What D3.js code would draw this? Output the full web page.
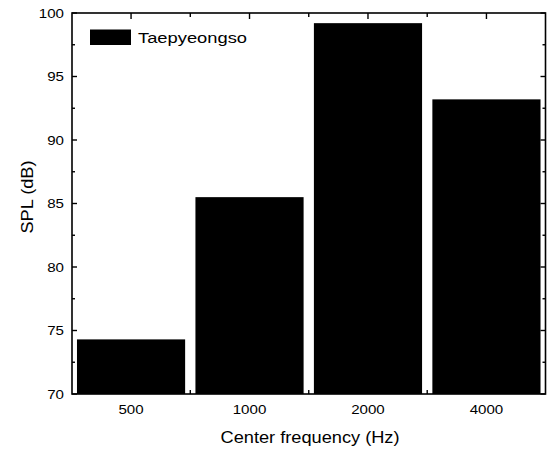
<!DOCTYPE html>
<html><head><meta charset="utf-8">
<script src="https://cdn.jsdelivr.net/npm/d3@7"></script>
<style>body{margin:0;background:#fff}svg{display:block}</style>
</head><body>
<svg id="c" width="547" height="451"></svg>
<script>
const categories = ["500", "1000", "2000", "4000"];
const spl = [74.3, 85.5, 99.2, 93.2];
const yTicks = [70, 75, 80, 85, 90, 95, 100];
const yMinor = [72.5, 77.5, 82.5, 87.5, 92.5, 97.5];
const seriesName = "Taepyeongso";
const xTitle = "Center frequency (Hz)";
const yTitle = "SPL (dB)";

const svg = d3.select("#c");
const L = 72, R = 545.5, T = 13, B = 394;
const font = "'Liberation Sans', Arial, sans-serif";

const x = d3.scaleBand().domain(categories).range([L, R]).paddingInner(0.087).paddingOuter(0.042);
const y = d3.scaleLinear().domain([70, 100]).range([B, T]);

// bars
svg.append("g").selectAll("rect").data(categories).join("rect")
  .attr("x", d => x(d)).attr("width", x.bandwidth())
  .attr("y", (d, i) => y(spl[i])).attr("height", (d, i) => B - y(spl[i]))
  .attr("fill", "#000");

// frame
svg.append("rect").attr("x", L).attr("y", T).attr("width", R - L).attr("height", B - T)
  .attr("fill", "none").attr("stroke", "#000").attr("stroke-width", 1.6);

const ax = svg.append("g").attr("stroke", "#000").attr("stroke-width", 1.4);
// y ticks left & right inward
yTicks.forEach(v => {
  ax.append("line").attr("x1", L).attr("x2", L + 5).attr("y1", y(v)).attr("y2", y(v));
  ax.append("line").attr("x1", R).attr("x2", R - 5).attr("y1", y(v)).attr("y2", y(v));
});
yMinor.forEach(v => {
  ax.append("line").attr("x1", L).attr("x2", L + 3).attr("y1", y(v)).attr("y2", y(v));
  ax.append("line").attr("x1", R).attr("x2", R - 3).attr("y1", y(v)).attr("y2", y(v));
});
// x ticks top & bottom inward
const centers = categories.map(c => x(c) + x.bandwidth() / 2);
const bounds = categories.slice(1).map(c => x(c) - x.step() * x.paddingInner() / 2);
centers.forEach(cx => {
  ax.append("line").attr("x1", cx).attr("x2", cx).attr("y1", T).attr("y2", T + 6);
  ax.append("line").attr("x1", cx).attr("x2", cx).attr("y1", B).attr("y2", B - 6);
});
bounds.forEach(cx => {
  ax.append("line").attr("x1", cx).attr("x2", cx).attr("y1", T).attr("y2", T + 4);
  ax.append("line").attr("x1", cx).attr("x2", cx).attr("y1", B).attr("y2", B - 4);
});

// y tick labels
svg.append("g").selectAll("text").data(yTicks).join("text")
  .attr("x", 64).attr("y", d => y(d) + 4.5)
  .attr("text-anchor", "end").attr("font-family", font).attr("font-size", 13)
  .attr("textLength", d => String(d).length * 8.4).attr("lengthAdjust", "spacingAndGlyphs")
  .text(d => d);

// x tick labels
svg.append("g").selectAll("text").data(categories).join("text")
  .attr("x", d => x(d) + x.bandwidth() / 2).attr("y", 414)
  .attr("text-anchor", "middle").attr("font-family", font).attr("font-size", 13)
  .attr("textLength", d => d.length * 8.4).attr("lengthAdjust", "spacingAndGlyphs")
  .text(d => d);

// axis titles
svg.append("text").attr("x", 310).attr("y", 443).attr("text-anchor", "middle")
  .attr("font-family", font).attr("font-size", 16)
  .attr("textLength", 179).attr("lengthAdjust", "spacingAndGlyphs").text(xTitle);
svg.append("text").attr("transform", "translate(33,197) rotate(-90)").attr("text-anchor", "middle")
  .attr("font-family", font).attr("font-size", 16)
  .attr("textLength", 73).attr("lengthAdjust", "spacingAndGlyphs").text(yTitle);

// legend
svg.append("rect").attr("x", 90).attr("y", 29.5).attr("width", 41).attr("height", 15.5).attr("fill", "#000");
svg.append("text").attr("x", 138).attr("y", 43).attr("font-family", font).attr("font-size", 15.5)
  .attr("textLength", 109).attr("lengthAdjust", "spacingAndGlyphs").text(seriesName);
</script>
</body></html>
